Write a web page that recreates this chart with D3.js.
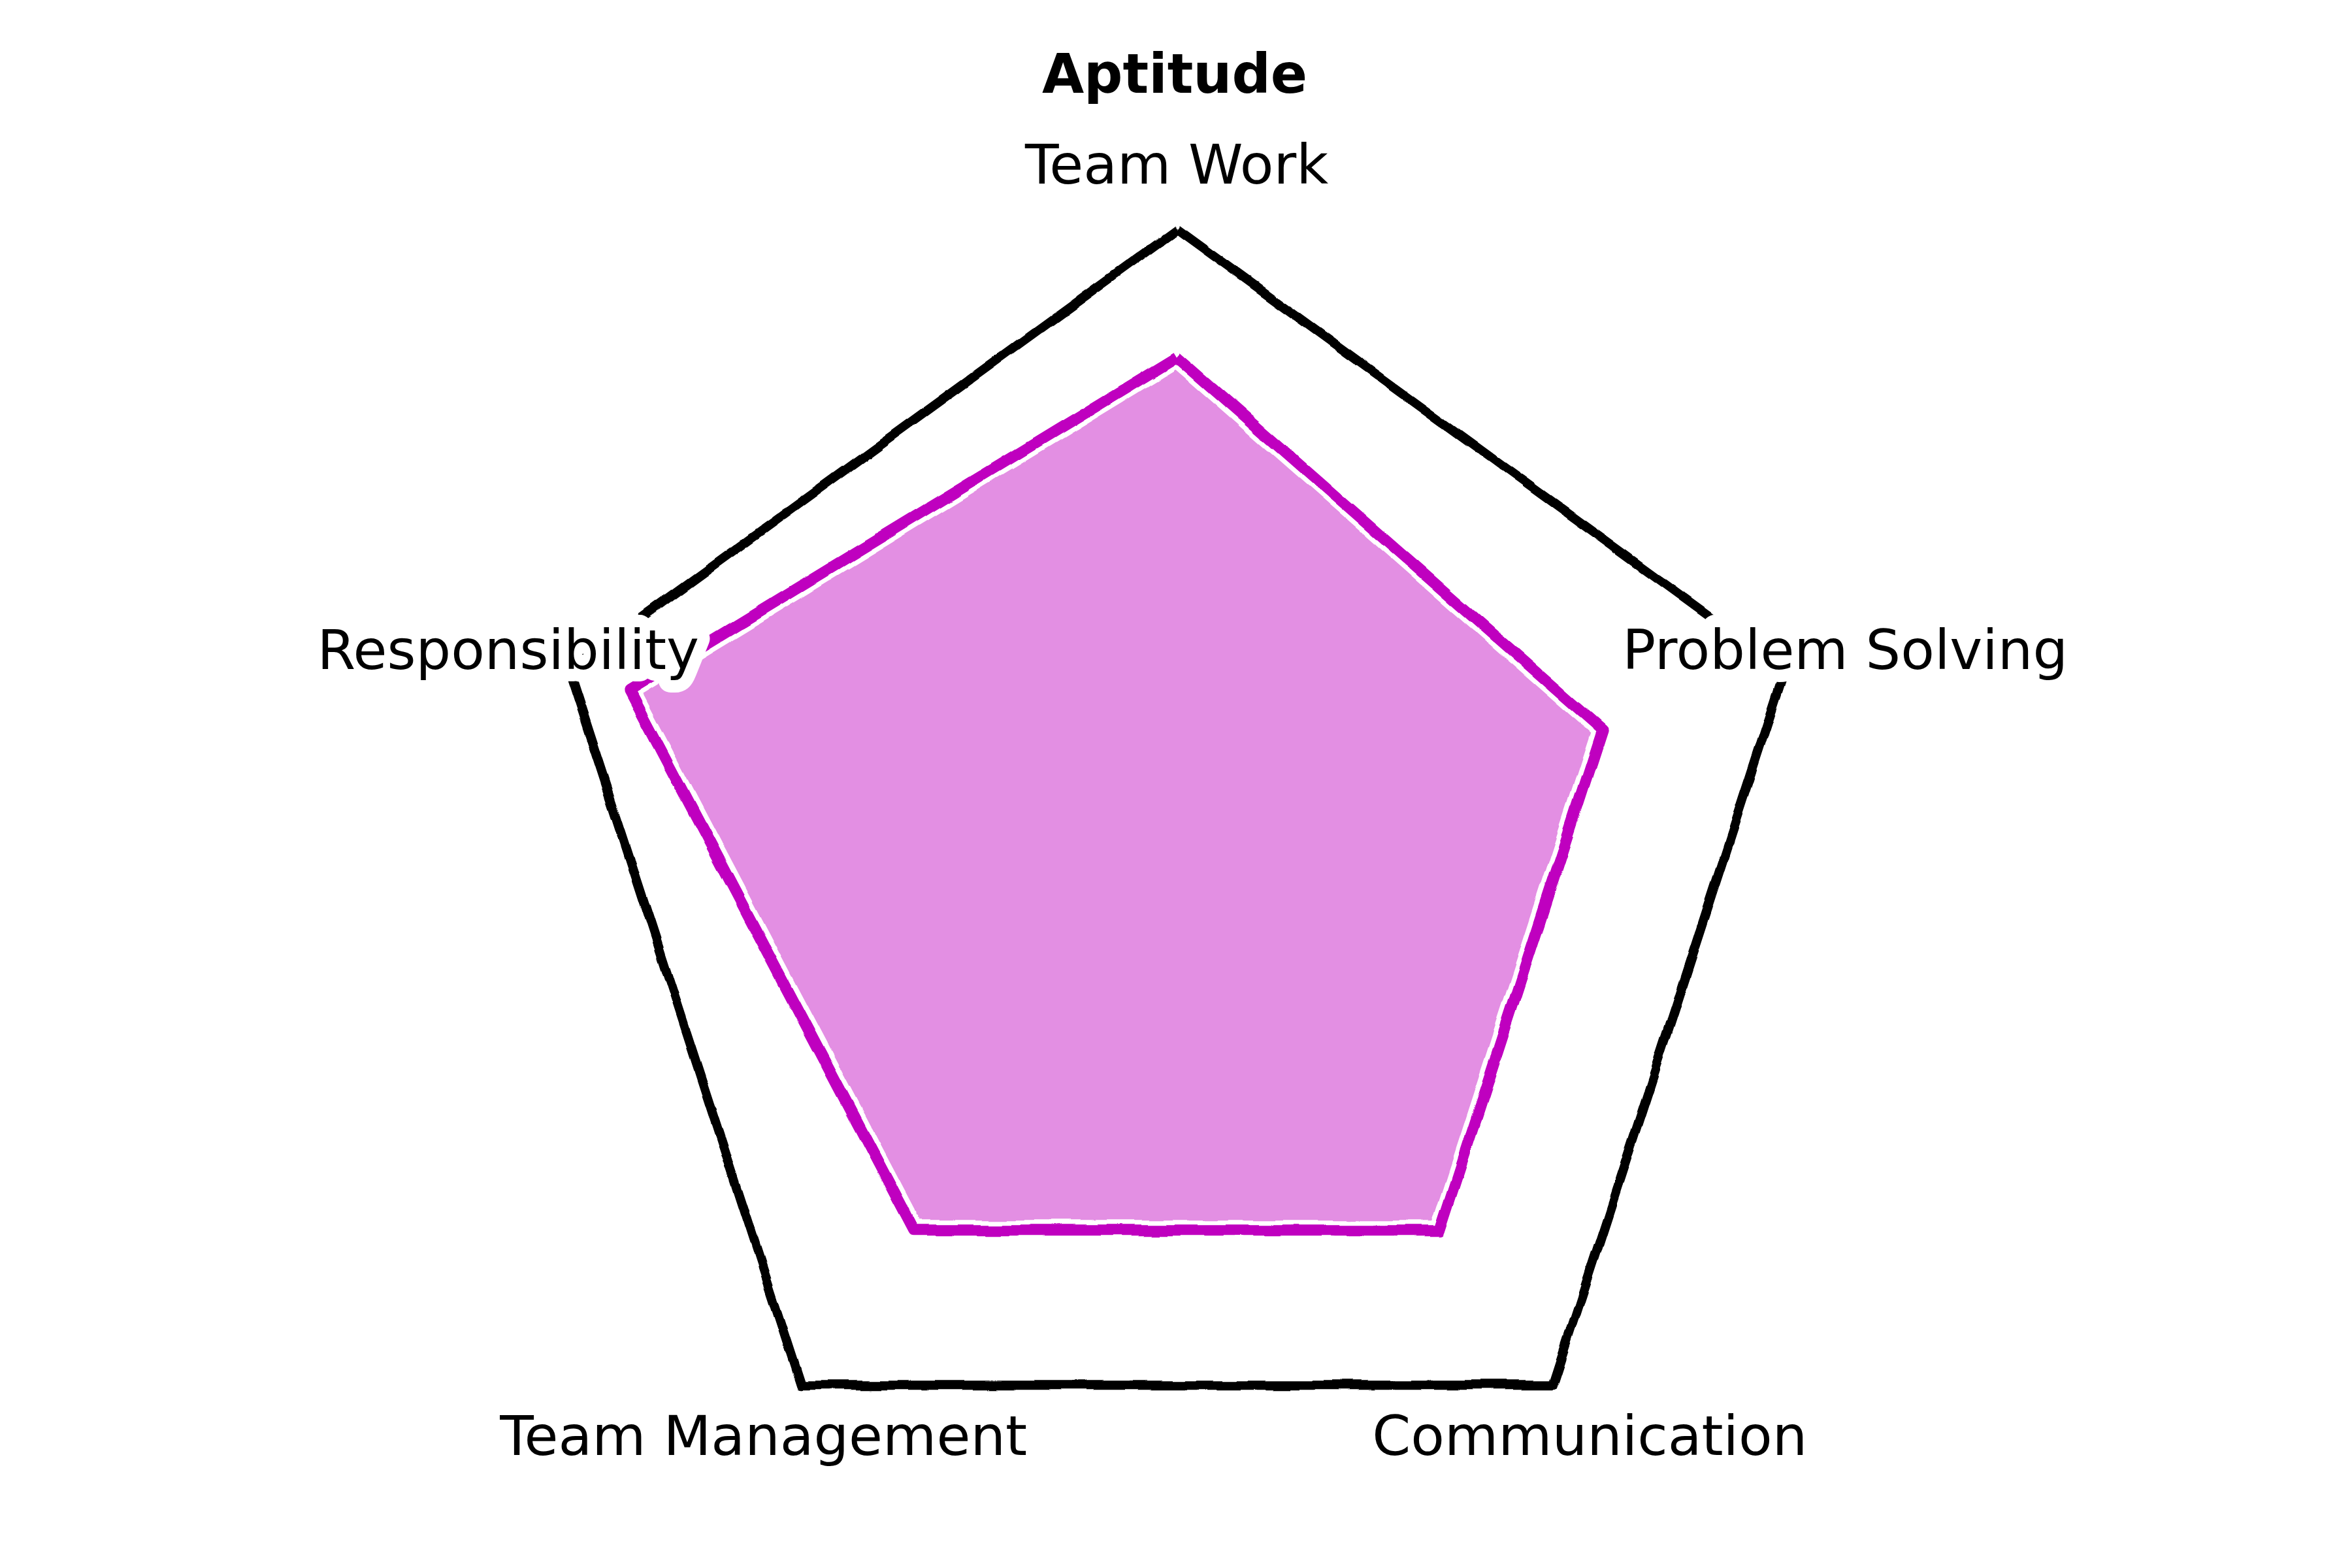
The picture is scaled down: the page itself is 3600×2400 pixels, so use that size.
<!DOCTYPE html>
<html>
<head>
<meta charset="utf-8">
<script src="https://cdn.jsdelivr.net/npm/d3@7"></script>
<style>
  html, body { margin: 0; padding: 0; background: #fff; }
  svg { display: block; }
  text { font-family: "DejaVu Sans", sans-serif; }
</style>
</head>
<body>
<svg id="chart" width="3600" height="2400"></svg>
<script>
// ---- data ----
const title = "Aptitude";
const categories = ["Team Work", "Problem Solving", "Communication", "Team Management", "Responsibility"];
const values = [4, 3.5, 3.5, 3.5, 4.5];
const rDomain = [0, 5];

// ---- layout ----
const W = 3600, H = 2400;
const cx = 1801, cy = 1329, R = 978;

const svg = d3.select("#chart");
const defs = svg.append("defs");

function sketchFilter(id, seed) {
  const f = defs.append("filter").attr("id", id)
    .attr("filterUnits", "userSpaceOnUse")
    .attr("x", -cx).attr("y", -cy).attr("width", W).attr("height", H);
  f.append("feTurbulence").attr("type", "fractalNoise")
    .attr("baseFrequency", 0.016).attr("numOctaves", 1).attr("seed", seed).attr("result", "noise");
  f.append("feDisplacementMap").attr("in", "SourceGraphic").attr("in2", "noise")
    .attr("scale", 12).attr("xChannelSelector", "R").attr("yChannelSelector", "G").attr("result", "disp");
  f.append("feGaussianBlur").attr("in", "disp").attr("stdDeviation", 0.6);
}
sketchFilter("sketchA", 7);
sketchFilter("sketchB", 21);

const angle = d3.scaleLinear().domain([0, categories.length]).range([0, 2 * Math.PI]);
const r = d3.scaleLinear().domain(rDomain).range([0, R]);

const radial = d3.lineRadial()
  .angle((d, i) => angle(i))
  .radius(d => r(d));

const closed = arr => arr.concat([arr[0]]);

const g = svg.append("g").attr("transform", `translate(${cx},${cy})`);

// data series (fill + line with white halo)
const gData = g.append("g").attr("filter", "url(#sketchA)");
gData.append("path")
  .attr("d", radial(closed(values)))
  .attr("fill", "#BF00BF").attr("fill-opacity", 0.44)
  .attr("stroke", "none");
gData.append("path")
  .attr("d", radial(closed(values)))
  .attr("fill", "none").attr("stroke", "#ffffff")
  .attr("stroke-width", 31).attr("stroke-linejoin", "round");
gData.append("path")
  .attr("d", radial(closed(values)))
  .attr("fill", "none").attr("stroke", "#BF00BF")
  .attr("stroke-width", 17).attr("stroke-linejoin", "round").attr("stroke-linecap", "butt");

// polygon frame
const frameVals = categories.map(() => rDomain[1]);
const gFrame = g.append("g").attr("filter", "url(#sketchB)");
gFrame.append("path")
  .attr("d", radial(closed(frameVals)))
  .attr("fill", "none").attr("stroke", "#000000")
  .attr("stroke-width", 14).attr("stroke-linejoin", "round").attr("stroke-linecap", "butt");

// axis labels
const labelR = r(rDomain[1] * 1.1);
g.selectAll("text.lab")
  .data(categories)
  .join("text")
  .attr("class", "lab")
  .attr("x", (d, i) => labelR * Math.sin(angle(i)))
  .attr("y", (d, i) => -labelR * Math.cos(angle(i)))
  .attr("dy", "0.33em")
  .attr("text-anchor", "middle")
  .attr("font-size", 84.5)
  .attr("fill", "#000")
  .attr("stroke", "#fff").attr("stroke-width", 38).attr("stroke-linejoin", "round")
  .attr("paint-order", "stroke")
  .text(d => d);

// title
svg.append("text")
  .attr("x", 1798).attr("y", 142)
  .attr("text-anchor", "middle")
  .attr("font-size", 83).attr("font-weight", "bold")
  .attr("fill", "#000")
  .attr("stroke", "#fff").attr("stroke-width", 38).attr("stroke-linejoin", "round")
  .attr("paint-order", "stroke")
  .text(title);
</script>
</body>
</html>
